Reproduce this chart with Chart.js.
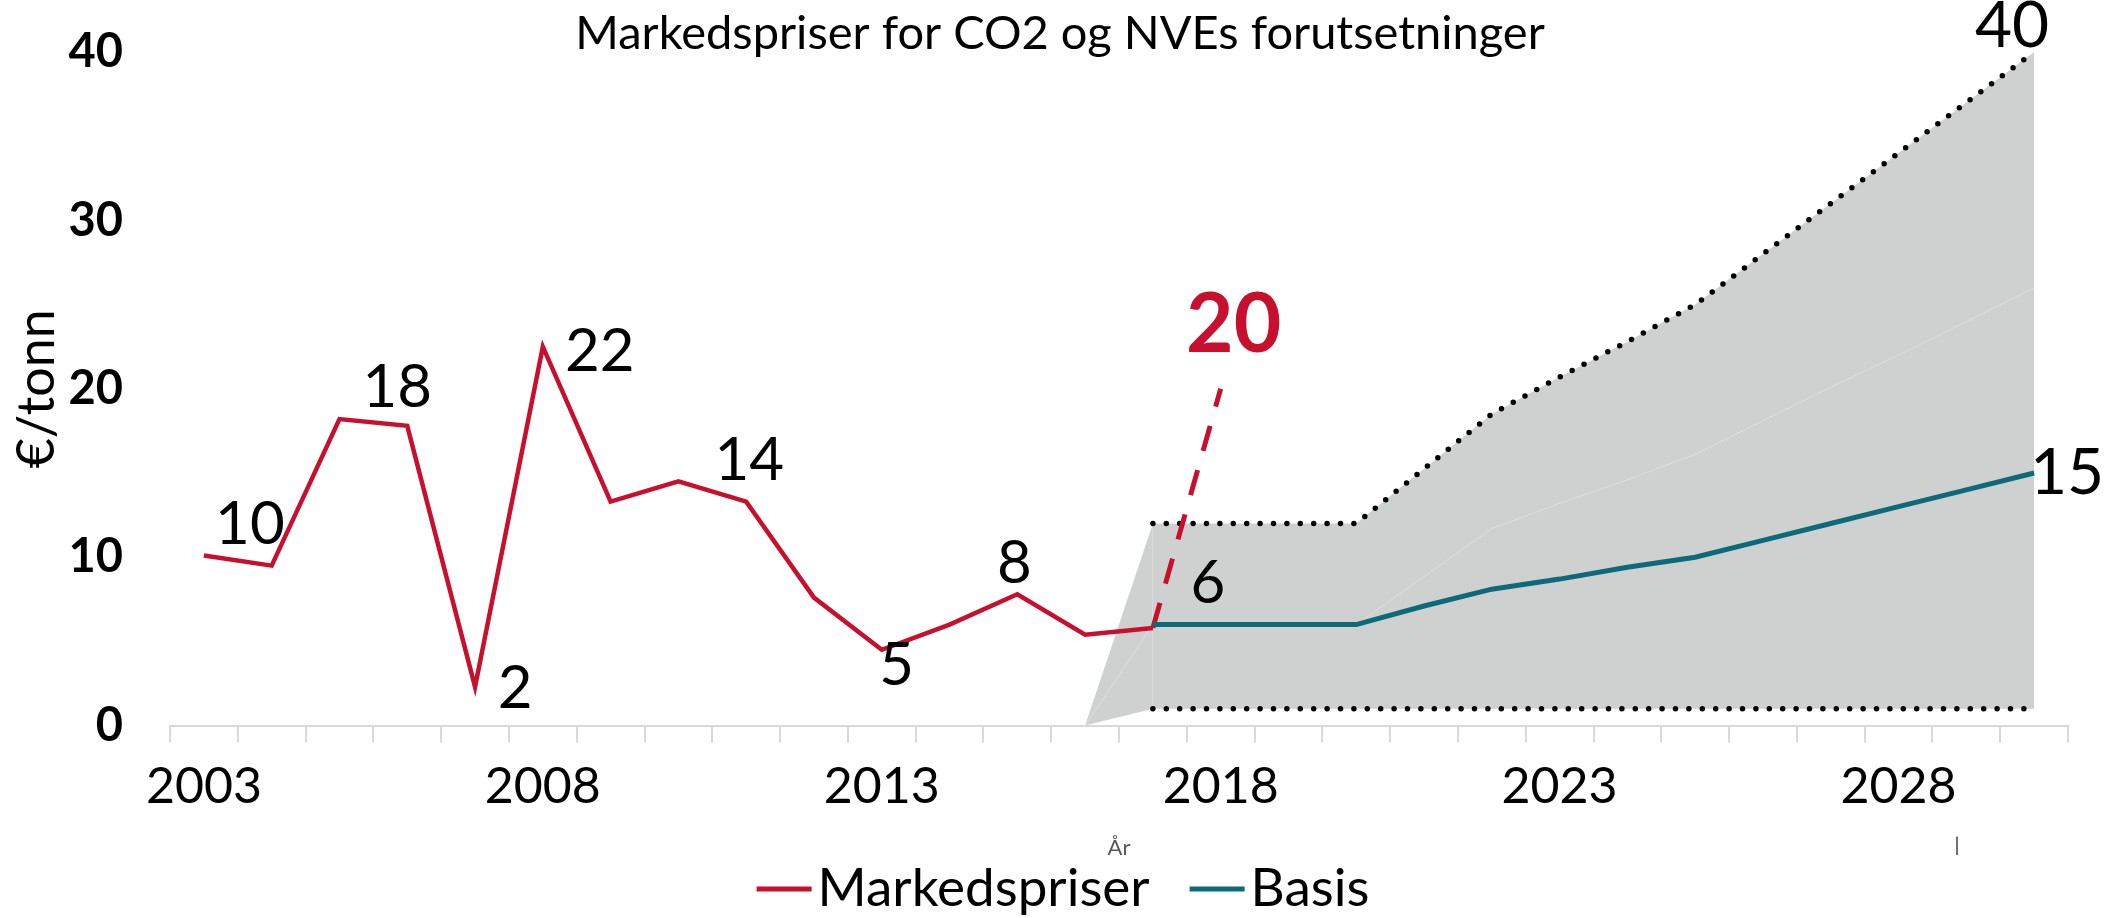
<!DOCTYPE html>
<html>
<head>
<meta charset="utf-8">
<script src="https://cdn.jsdelivr.net/npm/chart.js@4.4.1/dist/chart.umd.min.js"></script>
<style>
html,body{margin:0;padding:0;background:#ffffff;}
#wrap{width:2126px;height:918px;position:relative;}
</style>
</head>
<body>
<div id="wrap"><canvas id="c" width="2126" height="918"></canvas></div>
<script>
// ---- data ----
const years = ['2003','2004','2005','2006','2007','2008','2009','2010','2011','2012','2013','2014','2015','2016','2017','2018','2019','2020','2021','2022','2023','2024','2025','2026','2027','2028','2029','2030'];
const tickYears = ['2003','2008','2013','2018','2023','2028'];
const markedspriser = [10.1, 9.5, 18.2, 17.8, 2.3, 22.5, 13.3, 14.5, 13.3, 7.6, 4.5, 6.0, 7.8, 5.4, 5.8, null, null, null, null, null, null, null, null, null, null, null, null, null];
const markedspris2018 = [null, null, null, null, null, null, null, null, null, null, null, null, null, null, 5.8, 20, null, null, null, null, null, null, null, null, null, null, null, null];
const basis = [null, null, null, null, null, null, null, null, null, null, null, null, null, null, 6, 6, 6, 6, 7.1, 8.1, 8.7, 9.4, 10.0, 11.0, 12.0, 13.0, 14.0, 15.0];
const hoy = [null, null, null, null, null, null, null, null, null, null, null, null, null, 0, 12, 12, 12, 12, 15.25, 18.5, 20.7, 22.8, 25.0, 28.0, 31.0, 34.0, 37.0, 40.0];
const mellom = [null, null, null, null, null, null, null, null, null, null, null, null, null, 0, 6, 6, 6, 6, 8.85, 11.7, 13.2, 14.6, 16.1, 18.1, 20.1, 22.0, 24.0, 26.0];
const lav = [null, null, null, null, null, null, null, null, null, null, null, null, null, 0, 1, 1, 1, 1, 1, 1, 1, 1, 1, 1, 1, 1, 1, 1];
const yTicks = [0, 10, 20, 30, 40];

const RED = '#c8102e';
const TEAL = '#0c6a7b';
const GRAY = '#cfd1d1';
const FONT = 'Lato';

// value labels: dataset index, point index, text
const valueLabels = [
  {ds:0, i:0,  text:'10', dx:46,  dy:-31, font:'60px '+FONT, color:'#000'},
  {ds:0, i:3,  text:'18', dx:-10, dy:-38, font:'60px '+FONT, color:'#000'},
  {ds:0, i:4,  text:'2',  dx:40,  dy:2,   font:'60px '+FONT, color:'#000'},
  {ds:0, i:5,  text:'22', dx:57,  dy:5,   font:'60px '+FONT, color:'#000'},
  {ds:0, i:8,  text:'14', dx:3,   dy:-41, font:'60px '+FONT, color:'#000'},
  {ds:0, i:10, text:'5',  dx:15,  dy:16,  font:'60px '+FONT, color:'#000'},
  {ds:0, i:12, text:'8',  dx:-3,  dy:-31, font:'60px '+FONT, color:'#000'},
  {ds:1, i:14, text:'6',  dx:55,  dy:-41, font:'60px '+FONT, color:'#000'},
  {ds:2, i:15, text:'20', dx:13,  dy:-63, font:'bold 82px '+FONT, color:RED},
  {ds:5, i:27, text:'40', dx:-22, dy:-26, font:'64px '+FONT, color:'#000'},
  {ds:1, i:27, text:'15', dx:33,  dy:0,   font:'64px '+FONT, color:'#000'}
];

const hideFirstSeg = c => (c.p0DataIndex === 13 ? 'rgba(0,0,0,0)' : undefined);

const extras = {
  id: 'extras',
  afterDatasetsDraw(chart) {
    const c = chart.ctx;
    c.save();
    c.textAlign = 'center';
    c.textBaseline = 'middle';
    for (const a of valueLabels) {
      const el = chart.getDatasetMeta(a.ds).data[a.i];
      c.font = a.font;
      c.fillStyle = a.color;
      c.fillText(a.text, el.x + a.dx, el.y + a.dy);
    }
    c.restore();
  },
  afterDraw(chart) {
    const c = chart.ctx;
    c.save();
    // title
    c.font = '47px ' + FONT;
    c.fillStyle = '#000';
    c.textAlign = 'center';
    c.textBaseline = 'middle';
    c.fillText('Markedspriser for CO2 og NVEs forutsetninger', 1060, 34);
    // stray mark
    c.font = '20px ' + FONT;
    c.fillStyle = '#333';
    c.fillText('|', 1957, 846);
    // legend
    const items = [{text: chart.data.datasets[0].label, color: RED}, {text: chart.data.datasets[1].label, color: TEAL}];
    c.font = '53px ' + FONT;
    const sw = 55, g = 6, gap = 40;
    const widths = items.map(it => c.measureText(it.text).width);
    const total = items.length * (sw + g) + widths.reduce((s, w) => s + w, 0) + gap * (items.length - 1);
    let x = chart.width / 2 - total / 2;
    const y = 889;
    c.textAlign = 'left';
    items.forEach((it, k) => {
      c.strokeStyle = it.color;
      c.lineWidth = 5;
      c.lineCap = 'butt';
      c.beginPath();
      c.moveTo(x, y);
      c.lineTo(x + sw, y);
      c.stroke();
      c.fillStyle = '#000';
      c.fillText(it.text, x + sw + g, y);
      x += sw + g + widths[k] + gap;
    });
    c.restore();
  }
};

new Chart(document.getElementById('c'), {
  type: 'line',
  data: {
    labels: years,
    datasets: [
      {label:'Markedspriser', data: markedspriser, borderColor: RED, backgroundColor: RED, borderWidth: 4.5, pointRadius: 0, tension: 0, fill: false},
      {label:'Basis', data: basis, borderColor: TEAL, backgroundColor: TEAL, borderWidth: 5, pointRadius: 0, tension: 0, fill: false},
      {label:'Markedspris 2018', data: markedspris2018, borderColor: RED, borderWidth: 5, borderDash: [26, 20], pointRadius: 0, tension: 0, fill: false},
      {label:'Mellom', data: mellom, borderColor: 'rgba(255,255,255,0.3)', borderWidth: 1, pointRadius: 0, tension: 0, fill: false},
      {label:'Lav', data: lav, borderColor: '#000', borderWidth: 5.5, borderDash: [0, 13.4], borderCapStyle: 'round', pointRadius: 0, tension: 0, fill: false, segment: {borderColor: hideFirstSeg}},
      {label:'Høy', data: hoy, borderColor: '#000', borderWidth: 5.5, borderDash: [0, 13.4], borderCapStyle: 'round', pointRadius: 0, tension: 0, fill: 4, backgroundColor: GRAY, segment: {borderColor: hideFirstSeg}}
    ]
  },
  options: {
    responsive: false,
    animation: false,
    devicePixelRatio: 1,
    layout: {padding: {top: 52, right: 58, left: 0, bottom: 57}},
    scales: {
      x: {
        offset: true,
        grid: {display: true, drawOnChartArea: false, drawTicks: true, tickLength: 17, color: '#d9d9d9', lineWidth: 2, offset: true},
        border: {display: true, color: '#d9d9d9', width: 2},
        ticks: {autoSkip: false, maxRotation: 0, minRotation: 0, padding: 14, color: '#000', font: {family: FONT, size: 50},
          callback: function(v) { const l = this.getLabelForValue(v); return tickYears.includes(l) ? l : ''; }},
        title: {display: true, text: 'År', color: '#595959', font: {family: FONT, size: 22}, padding: {top: 4, bottom: 0}}
      },
      y: {
        min: 0, max: 40,
        afterBuildTicks: s => { s.ticks = yTicks.map(v => ({value: v})); },
        afterFit: s => { s.width = 170; },
        grid: {display: false, drawTicks: true, tickLength: 47},
        border: {display: false},
        ticks: {padding: 0, color: '#000', font: {family: FONT, size: 47, weight: 'bold'}},
        title: {display: true, text: '€/tonn', color: '#000', font: {family: FONT, size: 52}, padding: {top: 6, bottom: 0}}
      }
    },
    plugins: {
      legend: {display: false},
      tooltip: {enabled: false},
      title: {display: false}
    }
  },
  plugins: [extras]
});
</script>
</body>
</html>
